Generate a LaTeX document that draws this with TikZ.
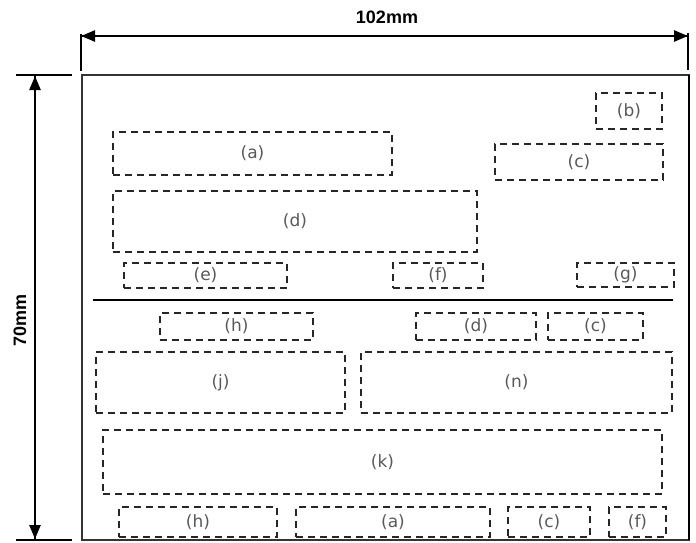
\documentclass[tikz,border=0pt]{standalone}
\usepackage{fontspec}
\setmainfont{DejaVu Sans}
\newfontfamily\dimfont{Liberation Sans}
\usetikzlibrary{arrows.meta}
\begin{document}
\begin{tikzpicture}[x=1pt,y=-1pt,
  box/.style={draw=black!85, line width=2pt, dash pattern=on 7pt off 5pt,
    rectangle, inner sep=0pt, text=black!65,
    font=\fontsize{17}{19}\selectfont},
  dimline/.style={line width=2.4pt, -{Triangle[length=14pt,width=11pt]}},
  extline/.style={line width=2.4pt},
  dimlabel/.style={font=\dimfont\bfseries\fontsize{18}{20}\selectfont, inner sep=0pt}]
\useasboundingbox (0,0) rectangle (696,542);
% frame
\draw[line width=1.3pt, draw=black!80] (82,75) rectangle (689,540);
\draw[line width=2.6pt] (689,75) -- (689,540);
% dimension: width
\coordinate (tl) at (81,34);
\coordinate (tlb) at (81,71);
\coordinate (tr) at (688,33);
\coordinate (trb) at (688,70);
\draw[extline] (tl) -- (tlb);
\draw[extline] (tr) -- (trb);
\coordinate (wa) at (81,36);
\coordinate (wb) at (688,36);
\draw[dimline] (wa) -- (wb);
\draw[dimline] (wb) -- (wa);
\node[dimlabel] (wlab) at (387,17) {102mm};
% dimension: height
\coordinate (la) at (16,75);
\coordinate (lb) at (72,75);
\coordinate (lc) at (16,540);
\coordinate (ld) at (72,540);
\draw[extline] (la) -- (lb);
\draw[extline] (lc) -- (ld);
\coordinate (ha) at (35,76);
\coordinate (hb) at (35,539);
\draw[dimline] (ha) -- (hb);
\draw[dimline] (hb) -- (ha);
\node[dimlabel, rotate=90] (hlab) at (20,320) {70mm};
% upper boxes
\node[box, minimum width=66pt, minimum height=36pt] (b1) at (629,111) {(b)};
\node[box, minimum width=168pt, minimum height=36pt] (c1) at (579,162) {(c)};
\node[box, minimum width=279pt, minimum height=43pt] (a1) at (252.5,153.5) {(a)};
\node[box, minimum width=364pt, minimum height=61pt] (d1) at (295,221.5) {(d)};
\node[box, minimum width=163pt, minimum height=25pt] (e1) at (205.5,275.5) {(e)};
\node[box, minimum width=90pt, minimum height=25pt] (f1) at (438,275.5) {(f)};
\node[box, minimum width=97pt, minimum height=24pt] (g1) at (625.5,275) {(g)};
% separator
\coordinate (sa) at (93,300);
\coordinate (sb) at (673,300);
\draw[line width=1.8pt] (sa) -- (sb);
% lower boxes
\node[box, minimum width=153pt, minimum height=27pt] (h1) at (236.5,326.5) {(h)};
\node[box, minimum width=120pt, minimum height=27pt] (d2) at (476,326.5) {(d)};
\node[box, minimum width=95pt, minimum height=27pt] (c2) at (595.5,326.5) {(c)};
\node[box, minimum width=249pt, minimum height=61pt] (j1) at (220.5,382.5) {(j)};
\node[box, minimum width=311pt, minimum height=61pt] (n1) at (516.5,382.5) {(n)};
\node[box, minimum width=559pt, minimum height=64pt] (k1) at (382.5,462) {(k)};
\node[box, minimum width=158pt, minimum height=30pt] (h2) at (198,522) {(h)};
\node[box, minimum width=194pt, minimum height=30pt] (a2) at (393,522) {(a)};
\node[box, minimum width=82pt, minimum height=30pt] (c3) at (549,522) {(c)};
\node[box, minimum width=57pt, minimum height=30pt] (f2) at (637.5,522) {(f)};
\end{tikzpicture}
\end{document}
